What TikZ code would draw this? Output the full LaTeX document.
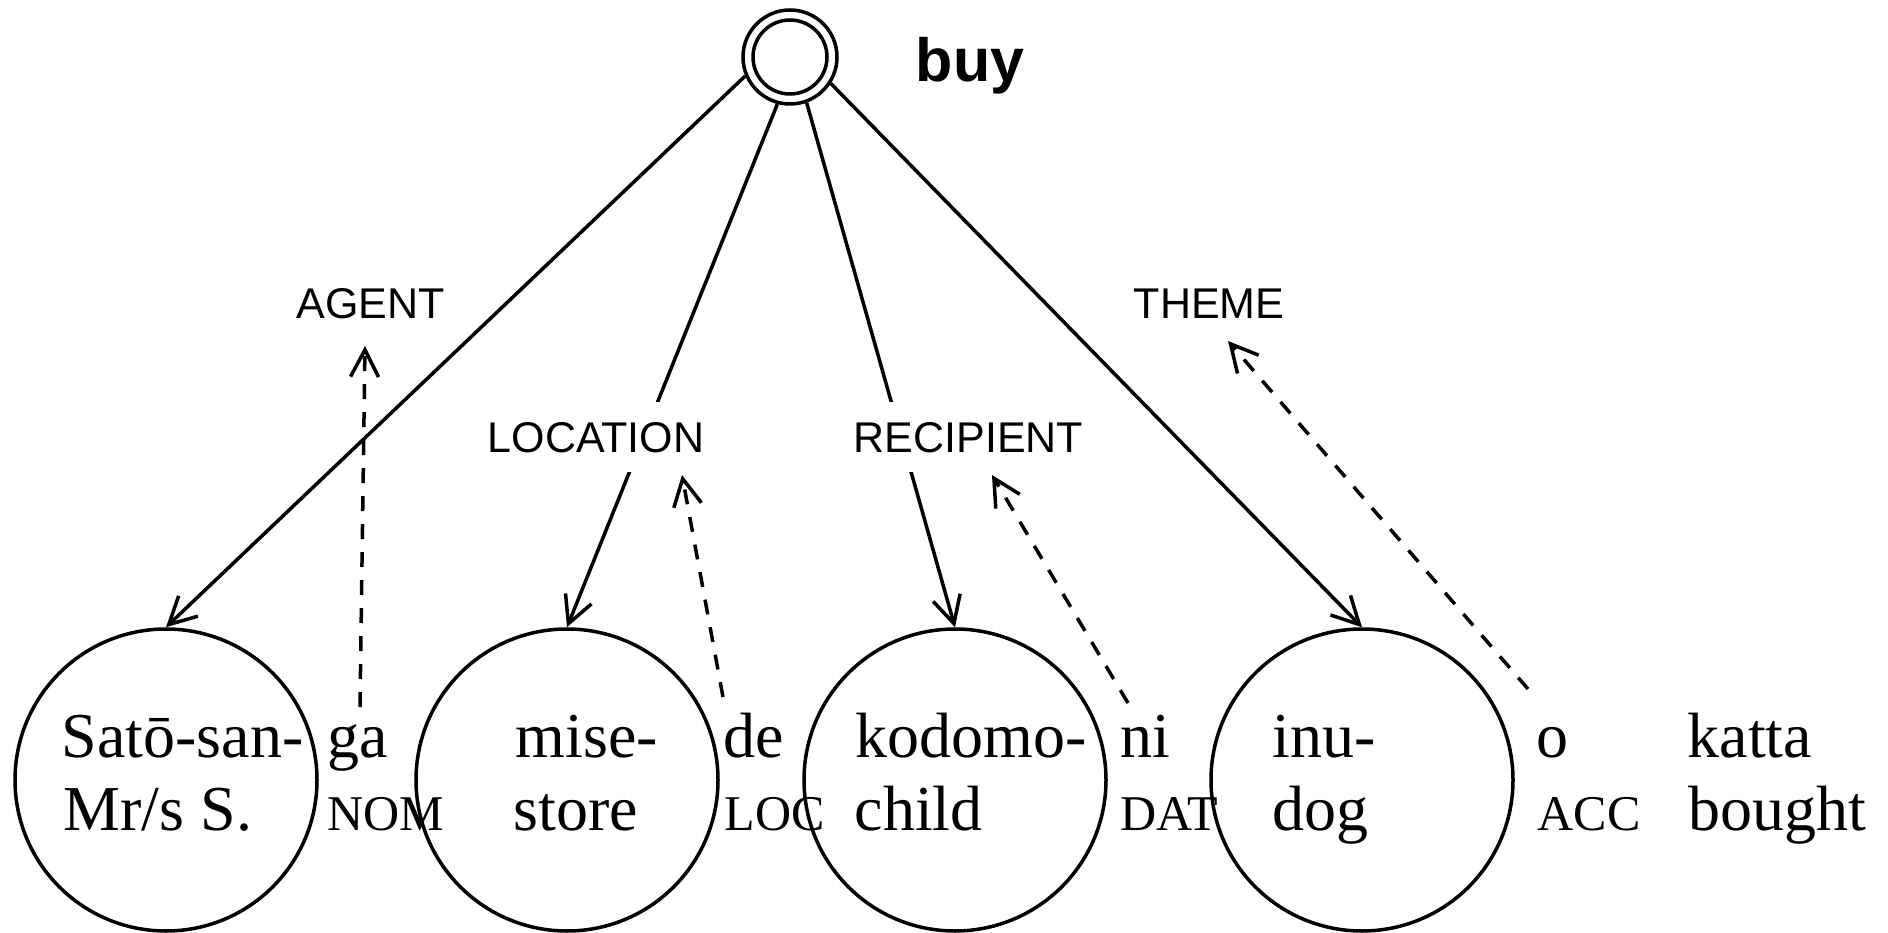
\documentclass[tikz,border=0pt]{standalone}
\usepackage{fontspec}
\setmainfont{Liberation Serif}
\setsansfont{Liberation Sans}
\usetikzlibrary{arrows.meta}

\tikzset{
  every path/.style={line width=3.5pt},
  barb/.tip={Straight Barb[length=27pt,width=28pt]},
  rolelink/.style={-barb},
  caselink/.style={-barb, dash pattern=on 15pt off 13pt},
  argcircle/.style={circle, draw, minimum size=302pt, inner sep=0pt},
  eventnode/.style={circle, draw, minimum size=94pt, inner sep=0pt},
  word/.style={anchor=base west, inner sep=0pt, font=\fontsize{64}{64}\selectfont},
  casemark/.style={anchor=base west, inner sep=0pt, font=\fontsize{50}{50}\selectfont},
  rolename/.style={anchor=base west, inner sep=0pt, font=\sffamily\fontsize{43}{43}\selectfont},
  rolegap/.style={rolename, fill=white, text height=50pt, text depth=20pt, inner xsep=2pt},
  predname/.style={anchor=base west, inner sep=0pt, font=\sffamily\bfseries\fontsize{61}{61}\selectfont},
}

\begin{document}
\begin{tikzpicture}[x=1pt, y=-1pt, line width=3.5pt]
\useasboundingbox (0,0) rectangle (1888,933);

% event node with its predicate name
\node[eventnode] (buy) at (790,57) {};
\draw (buy.center) circle[radius=37pt];
\node[predname] (buyname) at (914,82) {buy};

% argument circles
\node[argcircle] (sato)   at (166,780)  {};
\node[argcircle] (mise)   at (567,780)  {};
\node[argcircle] (kodomo) at (955,780)  {};
\node[argcircle] (inu)    at (1362,780) {};

% semantic role links
\draw[rolelink] (buy.203) -- (sato.north);
\draw[rolelink] (buy.255) -- (mise.north);
\draw[rolelink] (buy.290) -- (kodomo.north);
\draw[rolelink] (buy.327) -- (inu.north);

% role names
\node[rolename] (agent)     at (295,319)  {AGENT};
\node[rolegap]  (location)  at (484,452)  {LOCATION};
\node[rolegap]  (recipient) at (850,452)  {RECIPIENT};
\node[rolename] (theme)     at (1132,319) {THEME};

% glossed sentence
\node[word] (w1a) at (60,757)   {Satō-san-};
\node[word] (w1b) at (62,830)   {Mr/s S.};
\node[word] (c1a) at (326,757)  {ga};
\node[casemark] (c1b) at (326,830) {NOM};
\node[word] (w2a) at (514,757)  {mise-};
\node[word] (w2b) at (512,830)  {store};
\node[word] (c2a) at (722,757)  {de};
\node[casemark] (c2b) at (723,830) {LOC};
\node[word] (w3a) at (854,757)  {kodomo-};
\node[word] (w3b) at (853,830)  {child};
\node[word] (c3a) at (1119,757) {ni};
\node[casemark] (c3b) at (1119,830) {DAT};
\node[word] (w4a) at (1271,757) {inu-};
\node[word] (w4b) at (1271,830) {dog};
\node[word] (c4a) at (1535,757) {o};
\node[casemark] (c4b) at (1536,830) {ACC};
\node[word] (w5a) at (1686,757) {katta};
\node[word] (w5b) at (1687,830) {bought};

% case markers pointing to the roles they express
\coordinate (gaFoot)  at (360,707);  \coordinate (agentTip)     at (365,346);
\coordinate (deFoot)  at (723,697);  \coordinate (locationTip)  at (682,475);
\coordinate (niFoot)  at (1128,703); \coordinate (recipientTip) at (992,475);
\coordinate (oFoot)   at (1528,689); \coordinate (themeTip)     at (1228,341);
\draw[caselink] (gaFoot) -- (agentTip);
\draw[caselink] (deFoot) -- (locationTip);
\draw[caselink] (niFoot) -- (recipientTip);
\draw[caselink] (oFoot)  -- (themeTip);
\end{tikzpicture}
\end{document}
